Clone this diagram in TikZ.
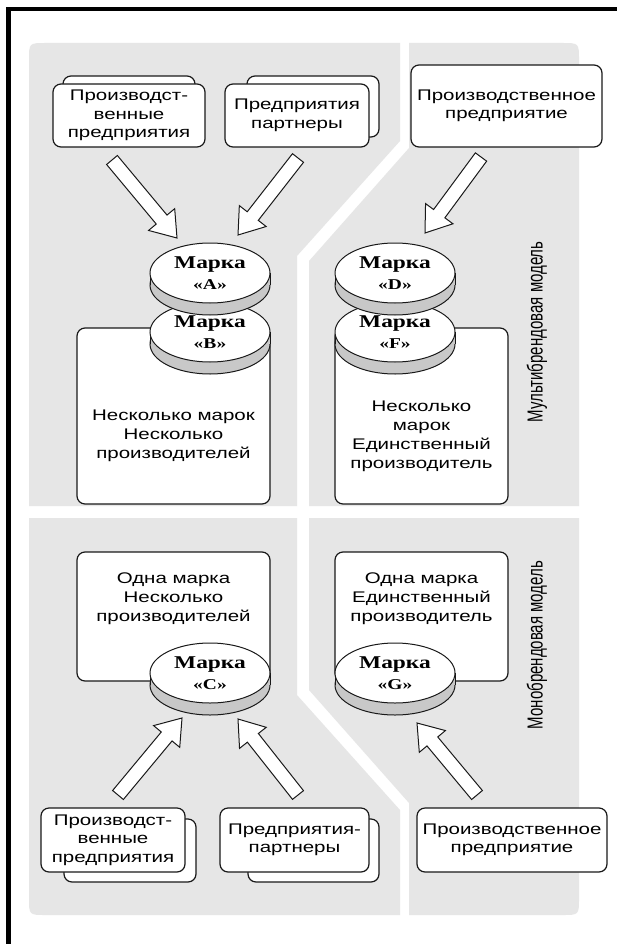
\documentclass[tikz,border=0pt]{standalone}
\usepackage{fontspec}
\usetikzlibrary{calc}
\newfontfamily\boxfont[FakeStretch=1.33]{Liberation Sans}
\newfontfamily\brandfont[FakeStretch=1.3]{Liberation Serif}
\newfontfamily\sidefont{Liberation Sans}
\definecolor{panelgrey}{RGB}{230,230,230}
\definecolor{rimgrey}{RGB}{200,200,200}
\definecolor{ink}{RGB}{25,25,25}
\tikzset{x=1pt, y=-1pt,
panel/.style={fill=panelgrey},
frame/.style={draw=black, line width=4.5pt},
firm/.style={
draw=ink,
line width=1.2pt,
fill=white,
rounded corners=8pt,
inner sep=0pt,
align=center,
font=\boxfont\fontsize{15.4}{18.5}\selectfont},
bigtext/.style={align=center, font=\boxfont\fontsize{15.4}{19}\selectfont},
brandface/.style={draw=ink, line width=1pt, fill=white},
brandrim/.style={draw=ink, line width=1pt, fill=rimgrey},
brandtext/.style={align=center, inner sep=0pt, font=\brandfont\bfseries\fontsize{18}{21}\selectfont},
feed/.style={draw=ink, line width=1pt, fill=white, line join=miter},
side/.style={rotate=90, font=\sidefont\fontsize{15}{18}\selectfont}}

% disk: name, centre, letter
\newcommand\brand[3]{%
\coordinate (#1-c) at (#2);
\draw[brandrim] ($(#1-c)+(0,12)$) ellipse [x radius=60pt, y radius=30pt];
\fill[rimgrey] ($(#1-c)+(-60,0)$) rectangle ($(#1-c)+(60,12)$);
\draw[ink, line width=1pt] ($(#1-c)+(-60,0)$) -- ++(0,12) ($(#1-c)+(60,0)$) -- ++(0,12);
\draw[brandface] (#1-c) ellipse [x radius=60pt, y radius=30pt];
\node[brandtext] (#1) at (#1-c) {Марка\\{\fontsize{15}{21}\selectfont«#3»}};}

% block arrow: tail, tip
\newcommand\feedarrow[2]{%
\coordinate (#1-h) at ($(#2)!24pt!(#1)$);
\draw[feed] ($(#1)!7pt!90:(#2)$) -- ($(#1-h)!7pt!90:(#2)$) -- ($(#1-h)!17pt!90:(#2)$)
-- (#2) -- ($(#1-h)!17pt!-90:(#2)$) -- ($(#1-h)!7pt!-90:(#2)$) -- ($(#1)!7pt!-90:(#2)$) -- cycle;}

\begin{document}
\begin{tikzpicture}
\useasboundingbox (0,0) rectangle (617,944);
\fill[white] (0,0) rectangle (617,944);
\fill[panel] (29,506) -- (29,60) .. controls (29,43) .. (46,43) -- (400,43) -- (400,141) -- (297,256) -- (297,506) -- cycle;
\fill[panel] (409,43) -- (562,43) .. controls (579,43) .. (579,60) -- (579,506) -- (309,506) -- (309,261) -- (409,148) -- cycle;
\fill[panel] (29,518) -- (297,518) -- (297,695) -- (400,810) -- (400,915) -- (46,915) .. controls (29,915) .. (29,898) -- cycle;
\fill[panel] (309,518) -- (579,518) -- (579,898) .. controls (579,915) .. (562,915) -- (409,915) -- (409,803) -- (309,690) -- cycle;
\draw[frame] (8.5,9) rectangle (700,1000);

\node[firm, minimum width=132pt, minimum height=64pt] (prodTLback) at (129,108) {};
\node[firm, minimum width=152pt, minimum height=63pt] (prodTL) at (129,115.5) {Производст-\\венные\\предприятия};
\node[firm, minimum width=132pt, minimum height=61pt] (partTLback) at (313,106.5) {};
\node[firm, minimum width=144pt, minimum height=63pt] (partTL) at (297,115.5) {Предприятия\\партнеры};
\node[firm, minimum width=191pt, minimum height=82pt] (prodTR) at (506.5,106) {Производственное\\предприятие};

\node[firm, minimum width=193pt, minimum height=176pt] (multiL) at (173.5,416) {};
\node[bigtext] (multiLtext) at (173.5,436) {Несколько марок\\Несколько\\производителей};
\node[firm, minimum width=173pt, minimum height=176pt] (multiR) at (421.5,416) {};
\node[bigtext] (multiRtext) at (421.5,436) {Несколько\\марок\\Единственный\\производитель};
\node[firm, minimum width=193pt, minimum height=129pt] (monoL) at (173.5,616.5) {};
\node[bigtext] (monoLtext) at (173.5,599) {Одна марка\\Несколько\\производителей};
\node[firm, minimum width=173pt, minimum height=129pt] (monoR) at (421.5,616.5) {};
\node[bigtext] (monoRtext) at (421.5,599) {Одна марка\\Единственный\\производитель};

\brand{markB}{210,332}{B}
\brand{markA}{210,273}{A}
\brand{markF}{395,332}{F}
\brand{markD}{395,273}{D}
\brand{markC}{210,673}{C}
\brand{markG}{395,673}{G}

\node[firm, minimum width=132pt, minimum height=63pt] (prodBLback) at (130,850.5) {};
\node[firm, minimum width=144pt, minimum height=64pt] (prodBL) at (113,840) {Производст-\\венные\\предприятия};
\node[firm, minimum width=131pt, minimum height=63pt] (partBLback) at (313.5,850.5) {};
\node[firm, minimum width=149pt, minimum height=64pt] (partBL) at (294.5,840) {Предприятия-\\партнеры};
\node[firm, minimum width=190pt, minimum height=64pt] (prodBR) at (512,840) {Производственное\\предприятие};

\coordinate (prodTL-out) at (112,160);
\coordinate (markA-in1) at (177,238);
\coordinate (partTL-out) at (298,158);
\coordinate (markA-in2) at (238,235);
\coordinate (prodTR-out) at (481,157);
\coordinate (markD-in) at (425,233);
\coordinate (prodBL-out) at (118,795);
\coordinate (markC-in1) at (182,718);
\coordinate (partBL-out) at (298,795);
\coordinate (markC-in2) at (238,719);
\coordinate (prodBR-out) at (477,795);
\coordinate (markG-in) at (417,723);
\feedarrow{prodTL-out}{markA-in1}
\feedarrow{partTL-out}{markA-in2}
\feedarrow{prodTR-out}{markD-in}
\feedarrow{prodBL-out}{markC-in1}
\feedarrow{partBL-out}{markC-in2}
\feedarrow{prodBR-out}{markG-in}

\node[side] (multi) at (537,332) {\scalebox{1}[1.45]{Мультибрендовая модель}};
\node[side] (mono) at (537,645) {\scalebox{1}[1.45]{Монобрендовая модель}};
\end{tikzpicture}
\end{document}
